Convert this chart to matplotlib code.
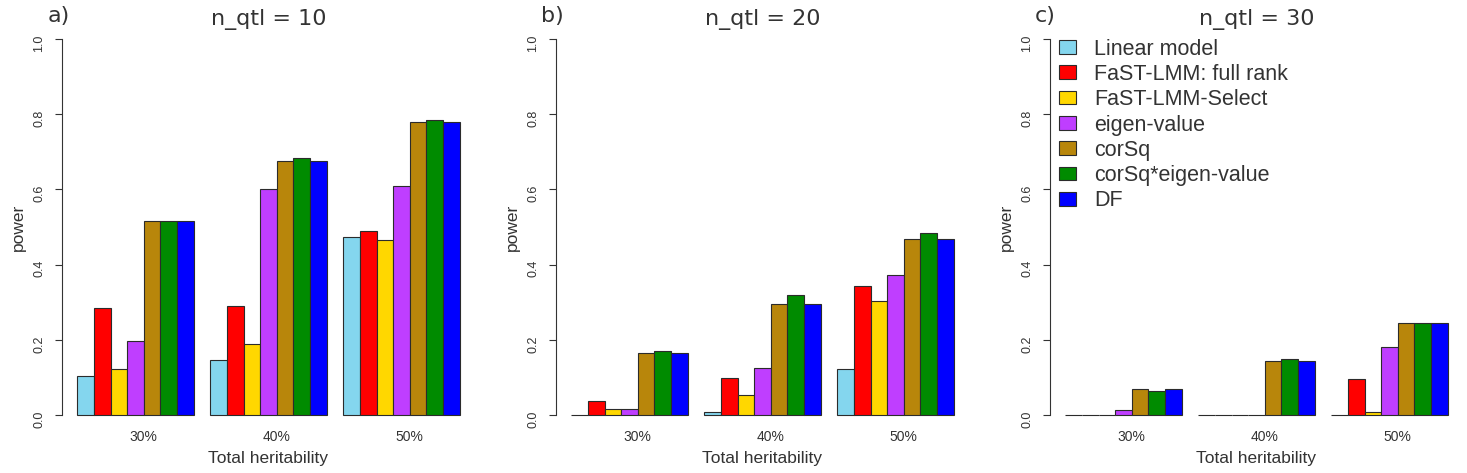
import matplotlib
matplotlib.use('Agg')
import matplotlib.pyplot as plt

methods = ['Linear model', 'FaST-LMM: full rank', 'FaST-LMM-Select',
           'eigen-value', 'corSq', 'corSq*eigen-value', 'DF']
colors = ['#84D6EE', '#FF0000', '#FFD700', '#BF3EFF', '#B8860B', '#008B00', '#0000FF']
heritability = ['30%', '40%', '50%']
panel_titles = ['n_qtl = 10', 'n_qtl = 20', 'n_qtl = 30']
panel_tags = ['a)', 'b)', 'c)']

# power per method, columns = 30%, 40%, 50% total heritability
power_q10 = [
    [0.104, 0.145, 0.474],
    [0.284, 0.290, 0.489],
    [0.123, 0.188, 0.465],
    [0.196, 0.601, 0.608],
    [0.516, 0.675, 0.780],
    [0.515, 0.683, 0.784],
    [0.516, 0.675, 0.779],
]
power_q20 = [
    [0.001, 0.007, 0.122],
    [0.037, 0.099, 0.343],
    [0.015, 0.052, 0.304],
    [0.016, 0.125, 0.372],
    [0.164, 0.295, 0.468],
    [0.170, 0.320, 0.484],
    [0.164, 0.295, 0.468],
]
power_q30 = [
    [0.000, 0.001, 0.000],
    [0.000, 0.000, 0.095],
    [0.000, 0.000, 0.007],
    [0.012, 0.000, 0.180],
    [0.068, 0.144, 0.244],
    [0.065, 0.148, 0.244],
    [0.068, 0.144, 0.244],
]
panels = [power_q10, power_q20, power_q30]

W, H = 1467, 473
fig = plt.figure(figsize=(W / 100, H / 100), dpi=100)

lefts = [62, 556, 1050]
edge = '#2b2b2b'
n_meth = len(methods)

for p, data in enumerate(panels):
    ax = fig.add_axes([lefts[p] / W, (H - 430) / H, 413 / W, 406 / H])
    for i in range(n_meth):
        xs = [1 + g * (n_meth + 1) + i for g in range(len(heritability))]
        ax.bar(xs, data[i], width=1, align='edge', color=colors[i],
               edgecolor=edge, linewidth=0.8, label=methods[i])
    ax.set_xlim(1 - 0.92, 24 + 0.92)
    ax.set_ylim(-0.04, 1.04)
    for s in ['top', 'right', 'bottom']:
        ax.spines[s].set_visible(False)
    ax.spines['left'].set_bounds(0, 1)
    ax.spines['left'].set_color('#333333')
    ax.set_yticks([0, 0.2, 0.4, 0.6, 0.8, 1.0])
    ax.set_yticklabels(['0.0', '0.2', '0.4', '0.6', '0.8', '1.0'],
                       family='Liberation Sans')
    ax.tick_params(axis='y', length=5, labelsize=9, labelrotation=90, pad=7,
                   color='#333333', labelcolor='#333333')
    ax.set_xticks([5 + g * (n_meth + 1) for g in range(len(heritability))])
    ax.set_xticklabels(heritability, family='Liberation Sans')
    ax.tick_params(axis='x', length=0, labelsize=10, pad=0, labelcolor='#333333')
    ax.set_xlabel('Total heritability', family='Liberation Sans', fontsize=12.5,
                  color='#333333', labelpad=5)
    ax.set_ylabel('power', family='Liberation Sans', fontsize=12.5,
                  color='#333333', labelpad=5)
    ax.text(0.5, 0.998, panel_titles[p], transform=ax.transAxes,
            family='DejaVu Sans', fontsize=16, color='#333333',
            ha='center', va='baseline')
    ax.text(-0.036, 1.005, panel_tags[p], transform=ax.transAxes,
            family='DejaVu Sans', fontsize=16, color='#333333',
            ha='left', va='baseline')
    if p == 2:
        ax.legend(loc='upper left', bbox_to_anchor=(0.022, 0.964), frameon=False,
                  prop={'family': 'Liberation Sans', 'size': 15.5},
                  handlelength=0.78, handleheight=0.6, handletextpad=0.85,
                  labelspacing=0.2, borderaxespad=0, borderpad=0,
                  labelcolor='#333333')

fig.savefig('out.png', dpi=100)
